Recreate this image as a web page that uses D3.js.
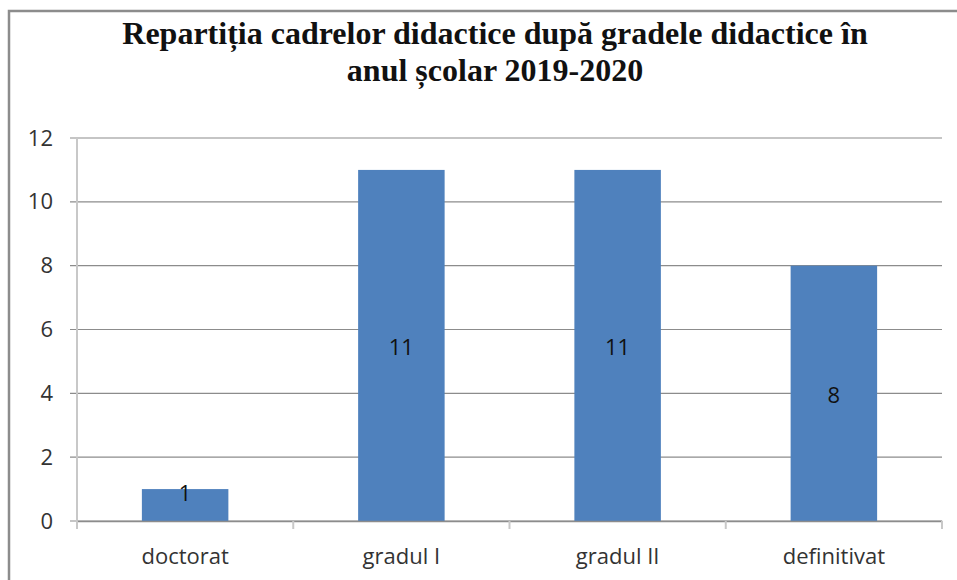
<!DOCTYPE html>
<html>
<head>
<meta charset="utf-8">
<script src="https://cdn.jsdelivr.net/npm/d3@7"></script>
<style>
  html, body { margin: 0; padding: 0; background: #fff; }
  svg { display: block; }
</style>
</head>
<body>
<svg id="chart" width="957" height="580"></svg>
<script>
const categories = ["doctorat", "gradul I", "gradul II", "definitivat"];
const values = [1, 11, 11, 8];
const yTicks = [0, 2, 4, 6, 8, 10, 12];
const titleLines = ["Repartiția cadrelor didactice după gradele didactice în", "anul școlar 2019-2020"];

const svg = d3.select("#chart");
const W = 957, H = 580;
const m = { left: 77, right: 942, top: 138, bottom: 521 };
const FONT = "'Open Sans', 'Liberation Sans', sans-serif";

// outer frame (top and left visible)
svg.append("path")
  .attr("d", `M9,${H + 5} L9,11 L${W + 5},11`)
  .attr("fill", "none")
  .attr("stroke", "#8c8c8c")
  .attr("stroke-width", 2.5);

// title
svg.append("g").selectAll("text").data(titleLines).join("text")
  .attr("x", 495)
  .attr("y", (d, i) => 44 + i * 37)
  .attr("text-anchor", "middle")
  .attr("font-family", "'Liberation Serif', 'Times New Roman', serif")
  .attr("font-weight", "bold")
  .attr("font-size", 32)
  .attr("fill", "#111")
  .text(d => d);

const x = d3.scaleBand().domain(categories).range([m.left, m.right]).paddingInner(0.6).paddingOuter(0.3);
const xOuter = d3.scaleBand().domain(categories).range([m.left, m.right]);
const y = d3.scaleLinear().domain([0, 12]).range([m.bottom, m.top]);

// gridlines
svg.append("g").selectAll("line").data(yTicks).join("line")
  .attr("x1", 70).attr("x2", m.right)
  .attr("y1", d => y(d)).attr("y2", d => y(d))
  .attr("stroke", "#8c8c8c").attr("stroke-width", 1.2);

// y axis
const yAxis = svg.append("g")
  .attr("transform", `translate(${m.left},0)`)
  .call(d3.axisLeft(y).tickValues(yTicks).tickSize(0).tickPadding(24));
yAxis.select(".domain").remove();
yAxis.selectAll("text")
  .attr("font-family", FONT)
  .attr("font-size", 22).attr("fill", "#333");
svg.append("line").attr("x1", m.left).attr("x2", m.left)
  .attr("y1", m.top).attr("y2", m.bottom + 7)
  .attr("stroke", "#c8c8c8").attr("stroke-width", 2);

// bars
svg.append("g").selectAll("rect").data(values).join("rect")
  .attr("x", (d, i) => x(categories[i]))
  .attr("y", d => y(d))
  .attr("width", x.bandwidth())
  .attr("height", d => y(0) - y(d))
  .attr("fill", "#4f81bd");

// x axis
const xAxis = svg.append("g")
  .attr("transform", `translate(0,${m.bottom})`)
  .call(d3.axisBottom(xOuter).tickSize(0).tickPadding(27));
xAxis.select(".domain").attr("stroke", "#8c8c8c").attr("stroke-width", 1.5);
xAxis.selectAll("text")
  .attr("font-family", FONT)
  .attr("font-size", 22).attr("fill", "#333");
// category tick marks at band boundaries
const bounds = categories.map(c => xOuter(c)).concat([m.right]);
svg.append("g").selectAll("line").data(bounds).join("line")
  .attr("x1", d => d).attr("x2", d => d)
  .attr("y1", m.bottom).attr("y2", m.bottom + 8)
  .attr("stroke", "#c8c8c8").attr("stroke-width", 2);

// data labels
svg.append("g").selectAll("text").data(values).join("text")
  .attr("x", (d, i) => x(categories[i]) + x.bandwidth() / 2)
  .attr("y", d => {
    const top = y(d), mid = (y(d) + y(0)) / 2;
    return (y(0) - top < 40 ? top + 4 : mid + 2) + 8;
  })
  .attr("text-anchor", "middle")
  .attr("font-family", FONT)
  .attr("font-size", 22).attr("fill", "#111")
  .text(d => d);
</script>
</body>
</html>
